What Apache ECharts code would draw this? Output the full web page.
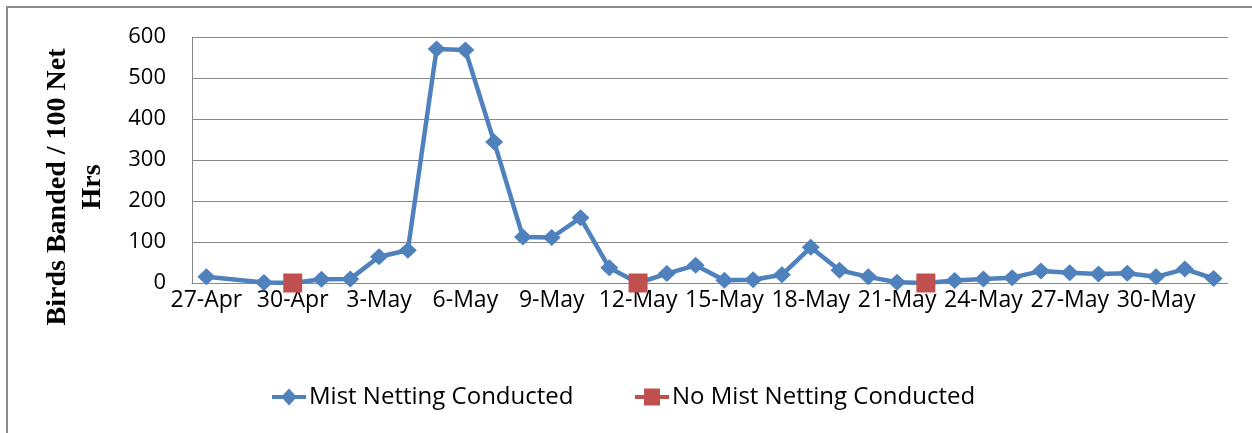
<!DOCTYPE html>
<html>
<head>
<meta charset="utf-8">
<script src="https://cdn.jsdelivr.net/npm/echarts@6/dist/echarts.min.js"></script>
<style>
  html, body {margin: 0; padding: 0; background: #fff;}
  #chart {width: 1252px; height: 433px;}
</style>
</head>
<body>
<div id="chart"></div>
<script>
// days 27-Apr .. 1-Jun
const dates = ['27-Apr', '28-Apr', '29-Apr', '30-Apr',
  '1-May', '2-May', '3-May', '4-May', '5-May', '6-May', '7-May', '8-May', '9-May', '10-May',
  '11-May', '12-May', '13-May', '14-May', '15-May', '16-May', '17-May', '18-May', '19-May', '20-May',
  '21-May', '22-May', '23-May', '24-May', '25-May', '26-May', '27-May', '28-May', '29-May', '30-May',
  '31-May', '1-Jun'];
// birds banded per 100 net hrs (null = no data)
const netted = [15, null, 1, 0,
  9, 10, 64, 80, 571, 568, 344, 112, 111, 159,
  37, 0, 23, 43, 7, 8, 20, 87, 31, 15,
  2, 0, 6, 10, 13, 29, 25, 22, 24, 15,
  34, 11];
// days without netting
const noNetting = [null, null, null, 0,
  null, null, null, null, null, null, null, null, null, null,
  null, 0, null, null, null, null, null, null, null, null,
  null, 0, null, null, null, null, null, null, null, null,
  null, null];
const yTicks = [0, 100, 200, 300, 400, 500, 600];

const blue = '#4F81BD';
const red = '#C0504D';
const font = '"Open Sans", sans-serif';

// legend icons: thick line with the marker in the middle
const diamondIcon = 'path://M0,6.5L11,6.5L17,0L23,6.5L34,6.5L34,10.5L23,10.5L17,17L11,10.5L0,10.5Z';
const squareIcon = 'path://M0,6.5L9,6.5L9,0L25,0L25,6.5L34,6.5L34,10.5L25,10.5L25,17L9,17L9,10.5L0,10.5Z';

const legendCommon = {
  top: 385,
  padding: 0,
  itemWidth: 34, itemHeight: 17,
  textStyle: {fontFamily: font, fontSize: 24, color: '#000', padding: [0, 0, 0, -2]}
};

const myChart = echarts.init(document.getElementById('chart'));
myChart.setOption({
  animation: false,
  grid: {left: 192, right: 24, top: 37, bottom: 150},
  legend: [
    Object.assign({left: 272, data: [{name: 'Mist Netting Conducted', icon: diamondIcon}]}, legendCommon),
    Object.assign({left: 635, data: [{name: 'No Mist Netting Conducted', icon: squareIcon}]}, legendCommon)
  ],
  xAxis: {
    type: 'category',
    data: dates,
    axisLine: {lineStyle: {color: '#888', width: 1}},
    axisTick: {show: false},
    axisLabel: {interval: 2, margin: 6, fontFamily: font, fontSize: 23, color: '#000'}
  },
  yAxis: {
    type: 'value',
    min: yTicks[0], max: yTicks[yTicks.length - 1], interval: 100,
    axisLine: {show: true, lineStyle: {color: '#888', width: 1}},
    axisTick: {show: false},
    splitLine: {lineStyle: {color: '#888', width: 1}},
    axisLabel: {margin: 26, fontFamily: font, fontSize: 22, color: '#000'}
  },
  graphic: [
    {
      type: 'polyline',
      shape: {points: [[7, 433], [7, 7], [1252, 7]]},
      style: {stroke: '#8c8c8c', lineWidth: 2, fill: null}
    },
    {
      type: 'text',
      x: 75, y: 187, rotation: Math.PI / 2,
      style: {
        text: 'Birds Banded / 100 Net\nHrs',
        font: 'bold 28px "Liberation Serif", serif',
        fill: '#000', align: 'center', verticalAlign: 'middle', lineHeight: 35
      }
    }
  ],
  series: [
    {
      name: 'Mist Netting Conducted',
      type: 'line',
      data: netted.map((v, i) => noNetting[i] === 0 ? {value: v, symbol: 'none'} : v),
      connectNulls: true,
      symbol: 'diamond',
      symbolSize: [18, 17],
      lineStyle: {color: blue, width: 4.5},
      itemStyle: {color: blue}
    },
    {
      name: 'No Mist Netting Conducted',
      type: 'line',
      data: noNetting,
      symbol: 'rect',
      symbolSize: 19,
      z: 5,
      lineStyle: {color: red, width: 4.5},
      itemStyle: {color: red}
    }
  ]
});
</script>
</body>
</html>
